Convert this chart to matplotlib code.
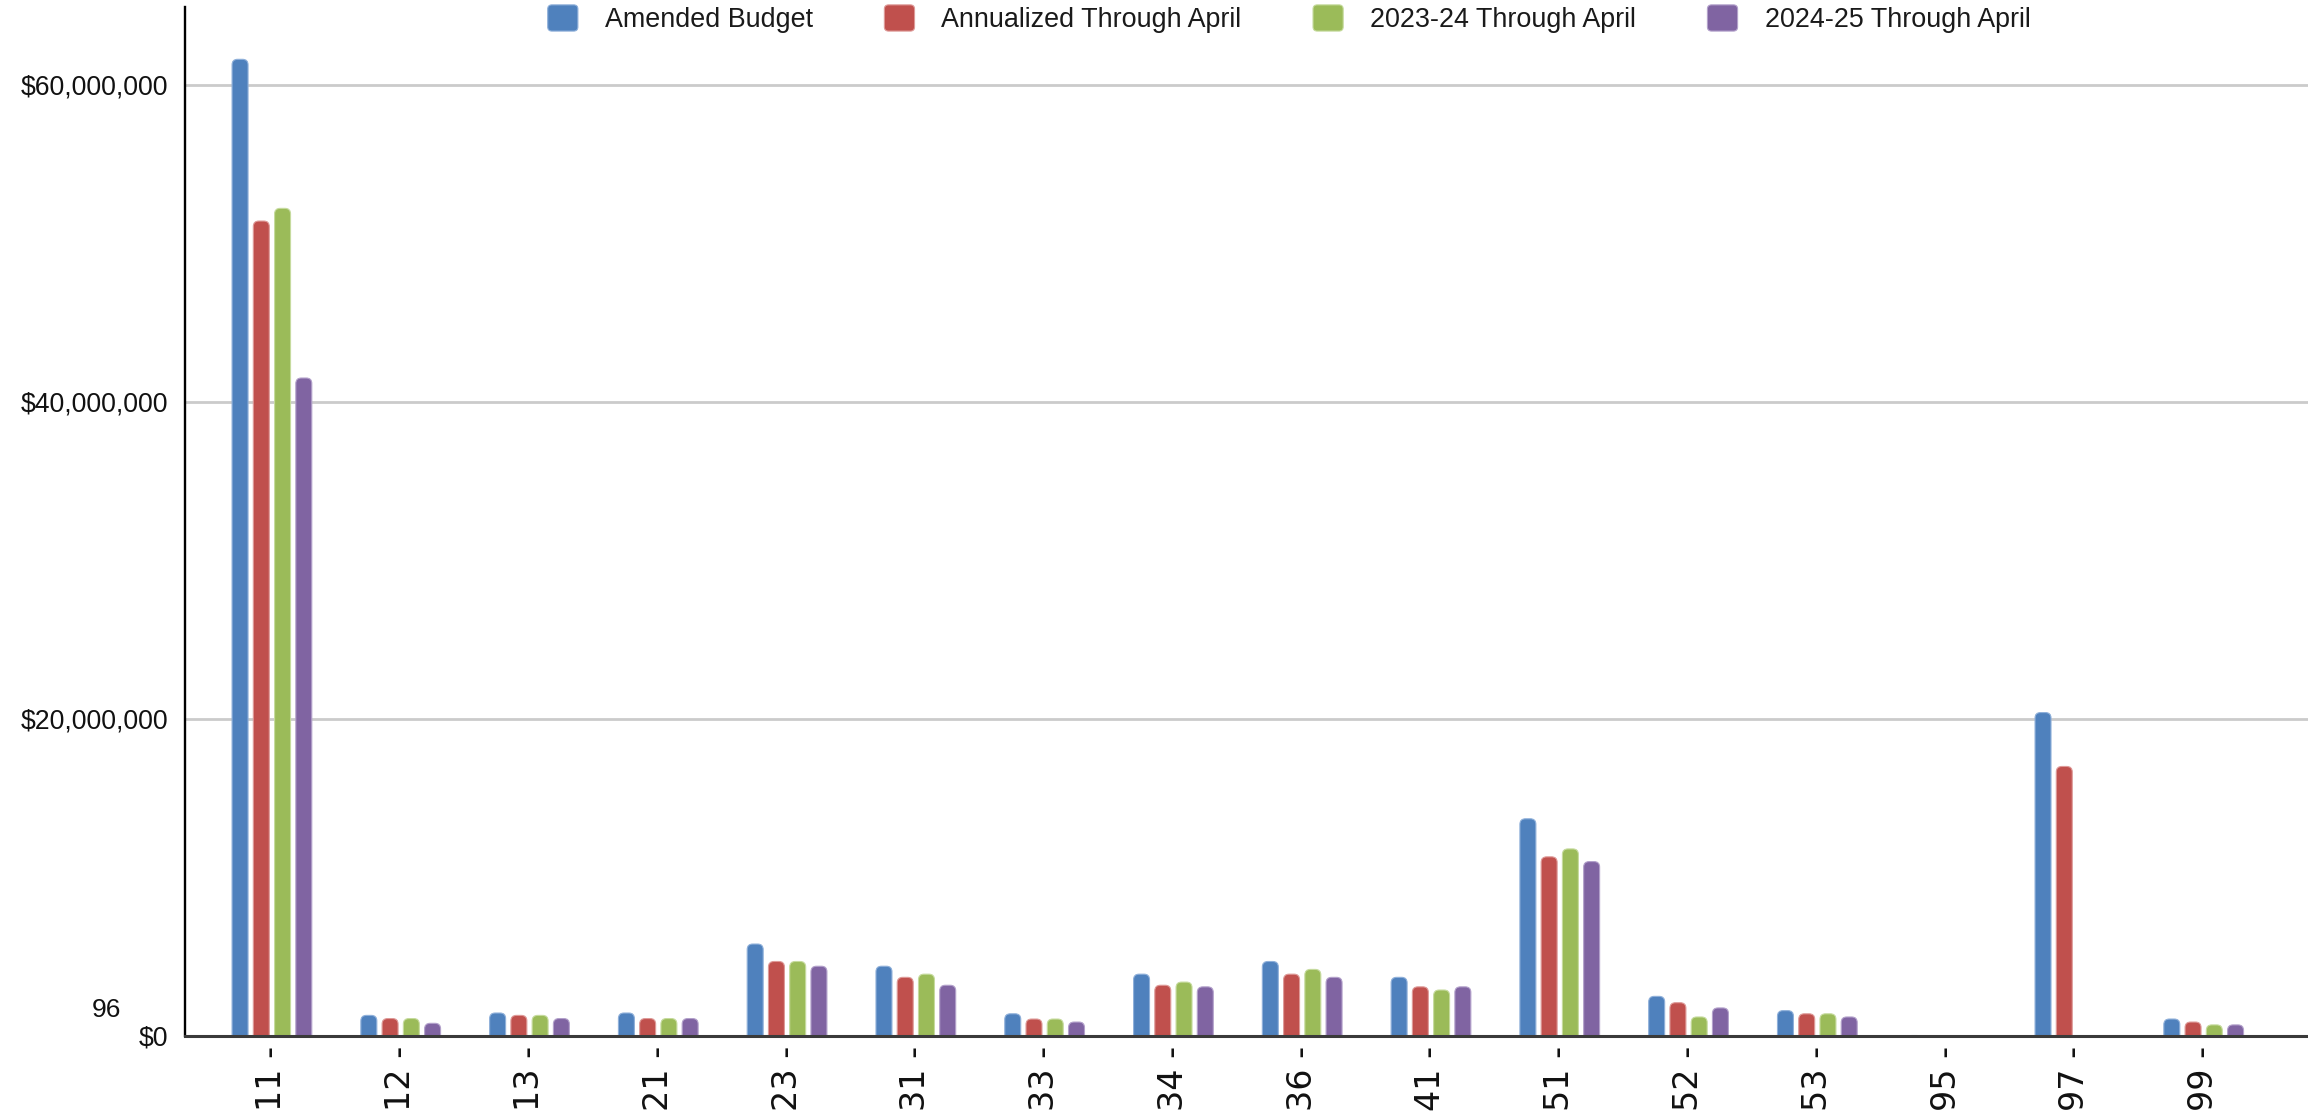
import matplotlib
matplotlib.use("Agg")
import matplotlib.pyplot as plt
from matplotlib.patches import FancyBboxPatch, Patch
from matplotlib.legend_handler import HandlerPatch
from matplotlib.ticker import FuncFormatter, FixedLocator

# ---- data -------------------------------------------------------------
categories = ["11", "12", "13", "21", "23", "31", "33", "34",
              "36", "41", "51", "52", "53", "95", "97", "99"]

amended_budget = [61.6e6, 1.30e6, 1.45e6, 1.45e6, 5.80e6, 4.40e6, 1.40e6, 3.90e6,
                  4.70e6, 3.70e6, 13.7e6, 2.50e6, 1.60e6, 0.03e6, 20.4e6, 1.07e6]
annualized_april = [51.4e6, 1.10e6, 1.30e6, 1.10e6, 4.70e6, 3.70e6, 1.07e6, 3.20e6,
                    3.90e6, 3.10e6, 11.3e6, 2.10e6, 1.40e6, 0.02e6, 17.0e6, 0.88e6]
fy2324_april = [52.2e6, 1.10e6, 1.30e6, 1.10e6, 4.70e6, 3.90e6, 1.07e6, 3.40e6,
                4.20e6, 2.90e6, 11.8e6, 1.20e6, 1.40e6, 0.0, 0.0, 0.70e6]
fy2425_april = [41.5e6, 0.80e6, 1.10e6, 1.10e6, 4.40e6, 3.20e6, 0.88e6, 3.10e6,
                3.70e6, 3.10e6, 11.0e6, 1.77e6, 1.20e6, 0.02e6, 0.0, 0.70e6]

series_names = ["Amended Budget", "Annualized Through April",
                "2023-24 Through April", "2024-25 Through April"]
series_values = [amended_budget, annualized_april, fy2324_april, fy2425_april]
series_colors = ["#4F81BD", "#C0504D", "#9BBB59", "#8064A2"]
series_edges = ["#8FB0DA", "#DE9A98", "#C6DB9E", "#B3A1CB"]

y_ticks = [0, 20e6, 40e6, 60e6]

# ---- figure -----------------------------------------------------------
W, H, DPI = 2308, 1113, 100
fig = plt.figure(figsize=(W / DPI, H / DPI), dpi=DPI)
fig.patch.set_facecolor("white")

ax_left, ax_right, ax_top, ax_bottom = 185, 2308, 7, 1036
ax = fig.add_axes([ax_left / W, (H - ax_bottom) / H,
                   (ax_right - ax_left) / W, (ax_bottom - ax_top) / H])

xlim = (-0.675, 15.81)
ylim = (0, 64.9e6)
ax.set_xlim(*xlim)
ax.set_ylim(*ylim)

# pixel scale of each data axis, used to keep bar-top rounding circular
px_x = (ax_right - ax_left) / (xlim[1] - xlim[0])
px_y = (ax_bottom - ax_top) / (ylim[1] - ylim[0])

pitch = 0.165
bar_w = 0.124
radius_px = 5.5
r_x = radius_px / px_x
r_y = radius_px / px_y
aspect = r_y / r_x

for s, (vals, col, edge) in enumerate(zip(series_values, series_colors, series_edges)):
    offset = (s - 1.5) * pitch
    for i, v in enumerate(vals):
        x0 = i + offset - bar_w / 2
        # start below the baseline so only the top corners show rounded
        patch = FancyBboxPatch((x0, -r_y), bar_w, v + r_y,
                               boxstyle=f"round,pad=0,rounding_size={r_x}",
                               mutation_aspect=aspect,
                               facecolor=col, edgecolor=edge, linewidth=0.8,
                               zorder=3)
        ax.add_patch(patch)

# ---- axes styling -----------------------------------------------------
ax.yaxis.set_major_locator(FixedLocator(y_ticks))
ax.yaxis.set_major_formatter(FuncFormatter(lambda v, p: f"${v:,.0f}"))
for gy in y_ticks[1:]:
    ax.axhline(gy, color="#CBCBCB", linewidth=2.0, zorder=1)

ax.set_xticks(range(len(categories)))
ax.set_xticklabels([f"{c} -" for c in categories], rotation=90,
                   fontsize=24, family="DejaVu Sans", color="#111111")
ax.tick_params(axis="x", length=0, pad=7)
ax.tick_params(axis="y", length=0, pad=12, labelsize=19.2, labelcolor="#111111")
for lbl in ax.get_yticklabels():
    lbl.set_family("Liberation Sans")

for side in ("top", "right"):
    ax.spines[side].set_visible(False)
ax.spines["left"].set_color("#000000")
ax.spines["left"].set_linewidth(1.7)
ax.spines["bottom"].set_color("#3A3A3A")
ax.spines["bottom"].set_linewidth(2.2)
ax.spines["left"].set_zorder(4)
ax.spines["bottom"].set_zorder(4)

fig.text(106 / W, 1 - 1010 / H, "96", fontsize=19, family="Liberation Sans",
         color="#111111", ha="center", va="center")

# ---- legend -----------------------------------------------------------
def rounded_square(legend, orig_handle, xdescent, ydescent, width, height, fontsize):
    return FancyBboxPatch((-xdescent, -ydescent), width, height,
                          boxstyle="round,pad=0,rounding_size=3")

handles = [Patch(facecolor=c, edgecolor=e, linewidth=0.8)
           for c, e in zip(series_colors, series_edges)]
fig.legend(handles, series_names, loc="center", ncol=4,
           bbox_to_anchor=(1289 / W, 1 - 19 / H), frameon=False,
           prop={"family": "Liberation Sans", "size": 19.4},
           handlelength=1.12, handleheight=1.12, handletextpad=1.0,
           columnspacing=2.65, borderpad=0,
           handler_map={Patch: HandlerPatch(patch_func=rounded_square)},
           labelcolor="#1A1A1A")

fig.savefig("out.png", dpi=DPI, facecolor="white")
